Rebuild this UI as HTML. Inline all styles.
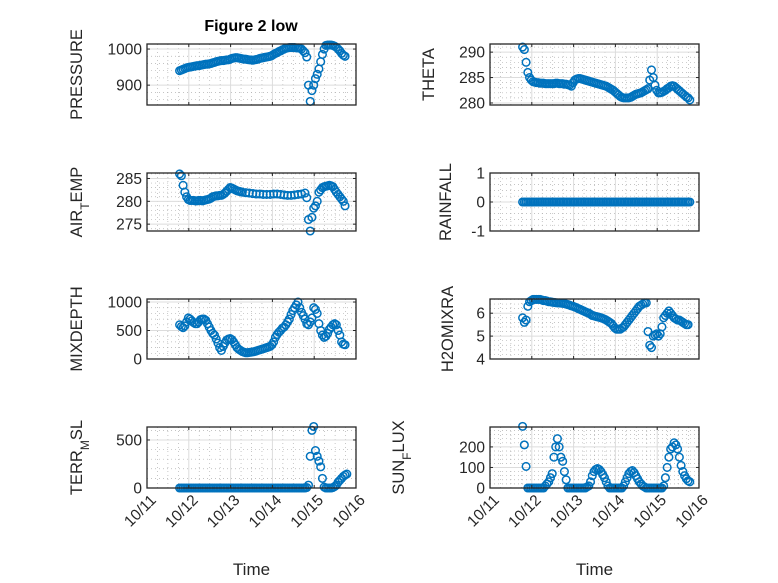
<!DOCTYPE html>
<html><head><meta charset="utf-8">
<style>
body{margin:0;background:#fff;}
svg{display:block;font-family:"Liberation Sans","DejaVu Sans",sans-serif;}
</style></head>
<body>
<svg id="fig" width="778" height="583" viewBox="0 0 778 583" xmlns="http://www.w3.org/2000/svg">
<rect width="778" height="583" fill="#fff"/>
<text x="251" y="31" font-size="16" font-weight="bold" text-anchor="middle" fill="#000">Figure 2 low</text>
</svg>
<script>
const xTickLabels = ["10/11","10/12","10/13","10/14","10/15","10/16"];
const allHours = [0,1,2,3,4,5,6,7,8,9,10,11,12,13,14,15,16,17,18,19,20,21,22,23,24,25,26,27,28,29,30,31,32,33,34,35,36,37,38,39,40,41,42,43,44,45,46,47,48,49,50,51,52,53,54,55,56,57,58,59,60,61,62,63,64,65,66,67,68,69,70,71,72,73,74,75,76,77,78,79,80,81,82,83,84,85,86,87,88,89,90,91,92,93,94,95,96];
// PRESSURE
const presHours = [0,1,2,3,4,5,6,7,8,9,10,11,12,13,14,15,16,17,18,19,20,21,22,23,24,25,26,27,28,29,30,31,32,33,34,35,36,37,38,39,40,41,42,43,44,45,46,47,48,49,50,51,52,53,54,55,56,57,58,59,60,61,62,63,64,65,66,67,68,69,70,71,72,73,74,75,76,77,78,79,80,81,82,83,84,85,86,87,88,89,90,91,92,93,94,95];
const presVals  = [940,942,944,946,948,949,950,951,952,953,954,954,955,956,957,958,958,959,960,962,963,965,966,967,968,968,969,970,970,972,974,975,976,976,975,974,973,972,972,971,970,970,969,970,971,972,974,975,976,977,978,979,980,982,985,988,990,993,995,998,1000,1002,1003,1004,1004,1004,1004,1003,1003,1002,1000,995,990,978,900,855,885,900,918,930,945,965,985,1000,1010,1011,1011,1011,1010,1008,1005,1000,995,988,983,980];
// AIR_TEMP
const airHours = [0,1,2,3,4,5,6,7,8,9,10,11,12,13,14,15,16,17,18,19,20,21,22,23,24,25,26,27,28,29,30,31,32,33,34,35,36,38,40,42,44,46,48,50,52,54,56,58,60,62,64,66,68,70,72,73,74,75,76,77,78,79,80,81,82,83,84,85,86,87,88,89,90,91,92,93,94,95];
const airVals  = [286,285.6,283.5,282,281,280.4,280.2,280.2,280.2,280.1,280.1,280.2,280.2,280.1,280.2,280.3,280.4,280.5,280.7,281,281.1,281.2,281.2,281.3,281.3,281.5,281.8,282.2,282.6,283,282.9,282.7,282.5,282.3,282.2,282.1,282,281.9,281.8,281.7,281.6,281.6,281.5,281.5,281.5,281.6,281.6,281.5,281.4,281.3,281.3,281.4,281.5,281.6,281.8,280.8,276,273.5,276.5,278.5,279,280,282,282.5,283,283.2,283.3,283.4,283.5,283.4,283.2,282.6,282,281.5,281,280.5,280,279];
// MIXDEPTH
const mixHours = [0,1,2,3,4,5,6,7,8,9,10,11,12,13,14,15,16,17,18,19,20,21,22,23,24,25,26,27,28,29,30,31,32,33,34,35,36,37,38,39,40,41,42,43,44,45,46,47,48,49,50,51,52,53,54,55,56,57,58,59,60,61,62,63,64,65,66,67,68,69,70,71,72,73,74,75,76,77,78,79,80,81,82,83,84,85,86,87,88,89,90,91,92,93,94,95];
const mixVals  = [600,570,550,580,650,720,700,670,640,620,620,650,690,700,700,680,620,560,500,450,420,350,280,200,150,220,280,330,350,360,340,300,250,200,170,150,130,120,110,110,115,120,125,130,140,150,160,170,180,190,200,210,220,250,300,380,430,470,500,540,560,600,650,700,780,850,900,950,1000,900,820,760,700,620,600,650,720,900,870,800,620,500,420,380,400,450,520,560,600,620,600,500,420,300,260,250];
// TERR_MSL
const terrHours = allHours;
const terrVals  = [0,0,0,0,0,0,0,0,0,0,0,0,0,0,0,0,0,0,0,0,0,0,0,0,0,0,0,0,0,0,0,0,0,0,0,0,0,0,0,0,0,0,0,0,0,0,0,0,0,0,0,0,0,0,0,0,0,0,0,0,0,0,0,0,0,0,0,0,0,0,0,0,0,5,30,330,600,640,390,330,280,220,100,10,0,0,0,0,5,15,30,60,80,100,120,135,145,150,150,150,150];
// THETA
const thetaHours = [0,1,2,3,4,5,6,7,8,9,10,11,12,13,14,15,16,17,18,19,20,21,22,23,24,25,26,27,28,29,30,31,32,33,34,35,36,37,38,39,40,41,42,43,44,45,46,47,48,49,50,51,52,53,54,55,56,57,58,59,60,61,62,63,64,65,66,67,68,69,70,71,72,73,74,75,76,77,78,79,80,81,82,83,84,85,86,87,88,89,90,91,92,93,94,95,96];
const thetaVals  = [291,290.5,288,286,285,284.5,284.2,284.1,284,284,283.9,283.9,283.9,283.8,283.8,283.8,283.8,283.8,283.8,283.9,283.9,283.8,283.8,283.8,283.7,283.7,283.6,283.5,283.3,284,284.5,284.7,284.8,284.8,284.7,284.6,284.5,284.4,284.3,284.2,284.1,284,283.9,283.8,283.7,283.6,283.5,283.4,283.3,283.1,282.9,282.7,282.5,282.2,281.9,281.6,281.3,281.1,281,281,281,281,281.1,281.3,281.5,281.7,281.8,281.9,282,282.2,282.4,282.6,282.8,284.5,286.5,285,283.5,282.5,282,282,282.1,282.3,282.5,282.8,283,283.3,283.4,283.3,283,282.7,282.4,282.1,281.8,281.5,281.2,281,280.6];
// RAINFALL
const rainHours = allHours;
const rainVals  = [0,0,0,0,0,0,0,0,0,0,0,0,0,0,0,0,0,0,0,0,0,0,0,0,0,0,0,0,0,0,0,0,0,0,0,0,0,0,0,0,0,0,0,0,0,0,0,0,0,0,0,0,0,0,0,0,0,0,0,0,0,0,0,0,0,0,0,0,0,0,0,0,0,0,0,0,0,0,0,0,0,0,0,0,0,0,0,0,0,0,0,0,0,0,0,0,0];
// H2OMIXRA
const h2oHours = [0,1,2,3,4,5,6,7,8,9,10,11,12,13,14,15,16,17,18,19,20,21,22,23,24,25,26,27,28,29,30,31,32,33,34,35,36,37,38,39,40,41,42,43,44,45,46,47,48,49,50,51,52,53,54,55,56,57,58,59,60,61,62,63,64,65,66,67,68,69,70,71,72,73,74,75,76,77,78,79,80,81,82,83,84,85,86,87,88,89,90,91,92,93,94,95];
const h2oVals  = [5.8,5.6,5.7,6.3,6.5,6.55,6.6,6.6,6.6,6.6,6.6,6.58,6.55,6.55,6.53,6.5,6.5,6.48,6.47,6.46,6.45,6.45,6.44,6.43,6.42,6.4,6.38,6.35,6.32,6.3,6.27,6.24,6.2,6.17,6.13,6.1,6.06,6.03,6.0,5.95,5.9,5.88,5.86,5.84,5.82,5.8,5.77,5.74,5.7,5.65,5.6,5.55,5.45,5.35,5.3,5.3,5.3,5.35,5.4,5.5,5.6,5.7,5.8,5.9,6.0,6.1,6.2,6.3,6.35,6.4,6.45,6.45,5.2,4.6,4.5,5.0,5.05,5.1,5.0,5.1,5.4,5.8,5.9,6.0,6.1,6.0,5.9,5.8,5.75,5.7,5.7,5.65,5.6,5.55,5.5,5.5];
// SUN_FLUX
const sunHours = allHours;
const sunVals  = [300,210,105,0,0,0,0,0,0,0,0,0,0,10,20,30,50,70,150,200,240,200,150,130,80,40,0,0,0,0,0,0,0,0,0,0,0,5,10,30,60,80,90,95,90,80,65,50,30,10,0,0,0,0,0,0,0,0,10,30,50,70,80,85,75,60,45,30,20,10,5,0,0,0,0,0,0,0,0,0,0,10,50,100,150,190,200,220,210,190,150,110,80,60,45,35,30];

const svg = document.getElementById('fig');
const NS = 'http://www.w3.org/2000/svg';
function mk(tag, attrs, parent){ const e=document.createElementNS(NS,tag); for(const k in attrs) e.setAttribute(k,attrs[k]); (parent||svg).appendChild(e); return e; }

const START_DAY = 0.78;
const panels = [
 {name:'pressure', x0:147,x1:356,y0:44,y1:105, ymin:845,ymax:1014, yticks:[900,1000], ystep:20, hours:presHours, vals:presVals, label:['PRESSURE'], lx:82, bottom:false},
 {name:'air-temp', x0:147,x1:356,y0:173,y1:231, ymin:273.5,ymax:286.2, yticks:[275,280,285], ystep:1, hours:airHours, vals:airVals, label:['AIR','T','EMP'], lx:82, bottom:false},
 {name:'mixdepth', x0:147,x1:356,y0:299,y1:359, ymin:0,ymax:1053, yticks:[0,500,1000], ystep:100, hours:mixHours, vals:mixVals, label:['MIXDEPTH'], lx:82, bottom:false},
 {name:'terr-msl', x0:147,x1:356,y0:427,y1:488, ymin:0,ymax:635, yticks:[0,500], ystep:100, hours:terrHours, vals:terrVals, label:['TERR','M','SL'], lx:82, bottom:true},
 {name:'theta', x0:490,x1:699,y0:44,y1:105, ymin:279.6,ymax:291.6, yticks:[280,285,290], ystep:1, hours:thetaHours, vals:thetaVals, label:['THETA'], lx:434, bottom:false},
 {name:'rainfall', x0:490,x1:699,y0:173,y1:231, ymin:-1,ymax:1, yticks:[-1,0,1], ystep:0.2, hours:rainHours, vals:rainVals, label:['RAINFALL'], lx:451, bottom:false},
 {name:'h2omixra', x0:490,x1:699,y0:299,y1:359, ymin:4,ymax:6.62, yticks:[4,5,6], ystep:0.2, hours:h2oHours, vals:h2oVals, label:['H2OMIXRA'], lx:453, bottom:false},
 {name:'sun-flux', x0:490,x1:699,y0:427,y1:488, ymin:0,ymax:297, yticks:[0,100,200], ystep:20, hours:sunHours, vals:sunVals, label:['SUN','F','LUX'], lx:404, bottom:true},
];

panels.forEach(p=>{
  const g = mk('g',{});
  
  
  const xs = d => p.x0 + (d/5)*(p.x1-p.x0);
  const ys = v => p.y1 - (v-p.ymin)/(p.ymax-p.ymin)*(p.y1-p.y0);
  for(let q=0;q<=20;q++){ if(q%4===0) continue; const x=xs(q/4);
    mk('line',{x1:x,x2:x,y1:p.y0,y2:p.y1,stroke:'#b0b0b0','stroke-width':0.7,'stroke-dasharray':'1,3'},g); }
  const n0=Math.ceil(p.ymin/p.ystep-1e-6), n1=Math.floor(p.ymax/p.ystep+1e-6);
  for(let k=n0;k<=n1;k++){ const v=k*p.ystep; if(p.yticks.some(t=>Math.abs(t-v)<1e-6)) continue;
    const y=ys(v); mk('line',{x1:p.x0,x2:p.x1,y1:y,y2:y,stroke:'#b0b0b0','stroke-width':0.7,'stroke-dasharray':'1,3'},g); }
  for(let d=1;d<5;d++){ const x=xs(d); mk('line',{x1:x,x2:x,y1:p.y0,y2:p.y1,stroke:'#dcdcdc','stroke-width':1},g); }
  p.yticks.forEach(v=>{ const y=ys(v); mk('line',{x1:p.x0,x2:p.x1,y1:y,y2:y,stroke:'#dcdcdc','stroke-width':1},g); });
  p.hours.forEach((h,i)=>{
    const c = mk('circle',{cx:xs(START_DAY+h/24).toFixed(2), cy:ys(p.vals[i]).toFixed(2), r:3.8, fill:'none', stroke:'#0072BD','stroke-width':1.5},g);
    
    
  });
  mk('rect',{x:p.x0,y:p.y0,width:p.x1-p.x0,height:p.y1-p.y0,fill:'none',stroke:'#262626','stroke-width':1.3},g);
  for(let d=0;d<=5;d++){ const x=xs(d);
    mk('line',{x1:x,x2:x,y1:p.y1,y2:p.y1-3,stroke:'#262626','stroke-width':1},g);
    mk('line',{x1:x,x2:x,y1:p.y0,y2:p.y0+3,stroke:'#262626','stroke-width':1},g);
    if(p.bottom){
      const t = mk('text',{x:x+10,y:p.y1+13,'font-size':15.5,fill:'#262626','text-anchor':'end',transform:`rotate(-45 ${x+10} ${p.y1+13})`},g);
      t.textContent = xTickLabels[d];
      
      
    }
  }
  p.yticks.forEach(v=>{ const y=ys(v);
    mk('line',{x1:p.x0,x2:p.x0+3,y1:y,y2:y,stroke:'#262626','stroke-width':1},g);
    mk('line',{x1:p.x1,x2:p.x1-3,y1:y,y2:y,stroke:'#262626','stroke-width':1},g);
    const t = mk('text',{x:p.x0-5,y:y+5.5,'font-size':15.5,fill:'#262626','text-anchor':'end'},g);
    t.textContent = String(v);
    
    
  });
  const cy=(p.y0+p.y1)/2;
  const lab = mk('text',{x:p.lx,y:cy,'font-size':16.5,fill:'#262626','text-anchor':'middle',transform:`rotate(-90 ${p.lx} ${cy})`},g);
  
  
  if(p.label.length===1){ lab.textContent=p.label[0]; }
  else {
    const a=mk('tspan',{},lab); a.textContent=p.label[0];
    const b=mk('tspan',{'baseline-shift':'sub','font-size':12},lab); b.textContent=p.label[1];
    const c=mk('tspan',{},lab); c.textContent=p.label[2];
  }
  if(p.bottom){
    const tl = mk('text',{x:(p.x0+p.x1)/2,y:575,'font-size':17,fill:'#262626','text-anchor':'middle'},g);
    tl.textContent='Time';
    
    
  }
});
</script>
</body></html>
